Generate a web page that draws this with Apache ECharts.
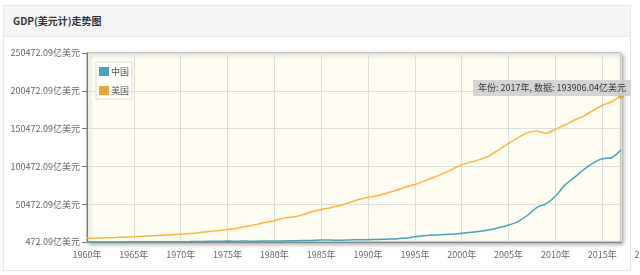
<!DOCTYPE html>
<html><head><meta charset="utf-8">
<script src="https://cdn.jsdelivr.net/npm/echarts@6/dist/echarts.min.js"></script>
<style>
html,body{margin:0;padding:0;width:640px;height:275px;background:#fff;overflow:hidden;font-family:"Noto Sans CJK SC",sans-serif;}
#panel{position:absolute;left:3px;top:5px;width:628px;height:266px;border:1px solid #e6e6e6;box-sizing:border-box;}
#head{position:absolute;left:0;top:0;right:0;height:30px;background:#f5f5f5;border-bottom:1px solid #e8e8e8;font-size:10px;line-height:30px;padding-left:9px;color:#333;font-weight:bold;}
#chart{position:absolute;left:0;top:0;width:640px;height:275px;}
</style></head>
<body>
<div id="panel"><div id="head">GDP(美元计)走势图</div></div>
<div id="chart"></div>
<script>
const years = [];
for (let y = 1960; y <= 2017; y++) years.push(y);
const seriesNames = ['中国', '美国'];
const chinaGDP = [597.16,500.57,472.09,507.07,597.08,704.36,767.20,728.82,708.47,797.15,
 926.03,998.00,1136.88,1385.44,1441.82,1634.32,1539.40,1749.38,1495.41,1782.81,
 1911.49,1958.66,2050.90,2306.87,2599.47,3094.88,3007.58,2729.73,3123.54,3477.68,
 3608.58,3833.73,4269.16,4447.31,5643.25,7345.48,8637.47,9616.04,10290.43,10939.97,
 12113.47,13394.00,14705.50,16602.88,19553.47,22859.66,27521.32,35521.82,45982.06,51099.54,
 61006.20,75725.46,85605.47,96072.16,104823.66,110646.55,111909.40,122377.00];
const usGDP = [5433.00,5633.00,6051.00,6386.00,6858.00,7437.00,8150.00,8617.00,9425.00,10199.00,
 10759.00,11678.00,12824.00,14254.00,15488.00,16889.00,18776.00,20850.00,23566.00,26273.00,
 28625.00,32070.00,33450.00,36381.00,40407.00,43467.00,45902.00,48702.00,52526.00,56577.00,
 59796.00,61740.00,65393.00,68787.00,73088.00,76641.00,81002.00,86085.00,90892.00,96606.00,
 102848.00,106218.00,109775.00,115107.00,122749.00,130937.00,138559.00,144776.00,147186.00,144187.00,
 149644.00,155179.00,161553.00,166915.00,174276.00,181207.00,186245.00,193906.04];
const yMin = 472.09, yMax = 250472.09, yStep = 50000;
const extraYearLabel = 2020;

const font = '"Noto Sans CJK SC", sans-serif';
const chart = echarts.init(document.getElementById('chart'), null, {renderer:'canvas'});
const toPairs = arr => arr.map((v, i) => [years[i], v]);
chart.setOption({
  animation: false,
  backgroundColor: 'transparent',
  textStyle: {fontFamily: font},
  color: ['#40a6ba', '#eba43a'],
  grid: {left: 87, top: 53, right: 19, bottom: 33, show: true, backgroundColor: '#fffcf1',
    borderColor: '#999', borderWidth: 1, shadowColor: 'rgba(0,0,0,0.35)', shadowBlur: 4, shadowOffsetX: 2, shadowOffsetY: 2},
  legend: {orient: 'vertical', left: 96, top: 62, padding: [5, 3, 4, 3], itemGap: 10,
    itemWidth: 10, itemHeight: 9, borderColor: '#ddd', borderWidth: 1, backgroundColor: 'rgba(255,255,255,0.6)',
    textStyle: {fontSize: 9, color: '#555', fontFamily: font, padding: [0, 0, 0, -3]}, icon: 'rect', itemStyle: {borderWidth: 0},
    data: seriesNames},
  tooltip: {trigger: 'item', alwaysShowContent: true, backgroundColor: 'rgba(205,205,205,0.85)', borderWidth: 0,
    padding: [2, 5], borderRadius: 0, extraCssText: 'box-shadow:none;line-height:12px;',
    textStyle: {fontSize: 9, color: '#333', fontFamily: font},
    position: (p, params, dom, rect, size) => [p[0] - size.contentSize[0] + 10, p[1] - size.contentSize[1]],
    formatter: p => '年份: ' + p.value[0] + '年, 数据: ' + p.value[1].toFixed(2) + '亿美元'},
  xAxis: {type: 'value', min: years[0], max: years[years.length - 1], interval: 5,
    axisLine: {show: true, lineStyle: {color: '#888'}}, axisTick: {show: false},
    axisLabel: {formatter: v => v + '年', fontSize: 9, color: '#666', margin: 8, showMaxLabel: false, fontFamily: font},
    splitLine: {show: true, lineStyle: {color: '#ddd'}}},
  yAxis: {type: 'value', min: yMin, max: yMax, interval: yStep,
    axisLine: {show: true, lineStyle: {color: '#777'}}, axisTick: {show: true, length: 5, lineStyle: {color: '#777'}},
    axisLabel: {formatter: v => v.toFixed(2) + '亿美元', fontSize: 9, color: '#666', margin: 7, fontFamily: font},
    splitLine: {show: true, lineStyle: {color: '#ddd'}}},
  series: [
    {name: seriesNames[0], type: 'line', data: toPairs(chinaGDP), showSymbol: false, symbol: 'circle', symbolSize: 5, smooth: 0.3,
      lineStyle: {width: 1.5}},
    {name: seriesNames[1], type: 'line', data: toPairs(usGDP), showSymbol: false, symbol: 'circle', symbolSize: 5, smooth: 0.3,
      lineStyle: {width: 1.5}}
  ]
});
const px = chart.convertToPixel({xAxisIndex: 0}, extraYearLabel);
chart.setOption({graphic: [{type: 'text', x: px, y: 275 - 33 + 8,
  style: {text: extraYearLabel + '年', fill: '#666', font: '9px ' + font, align: 'center', verticalAlign: 'top'}}]});
chart.dispatchAction({type: 'highlight', seriesIndex: 1, dataIndex: usGDP.length - 1});
chart.dispatchAction({type: 'showTip', seriesIndex: 1, dataIndex: usGDP.length - 1});
</script>
</body></html>
